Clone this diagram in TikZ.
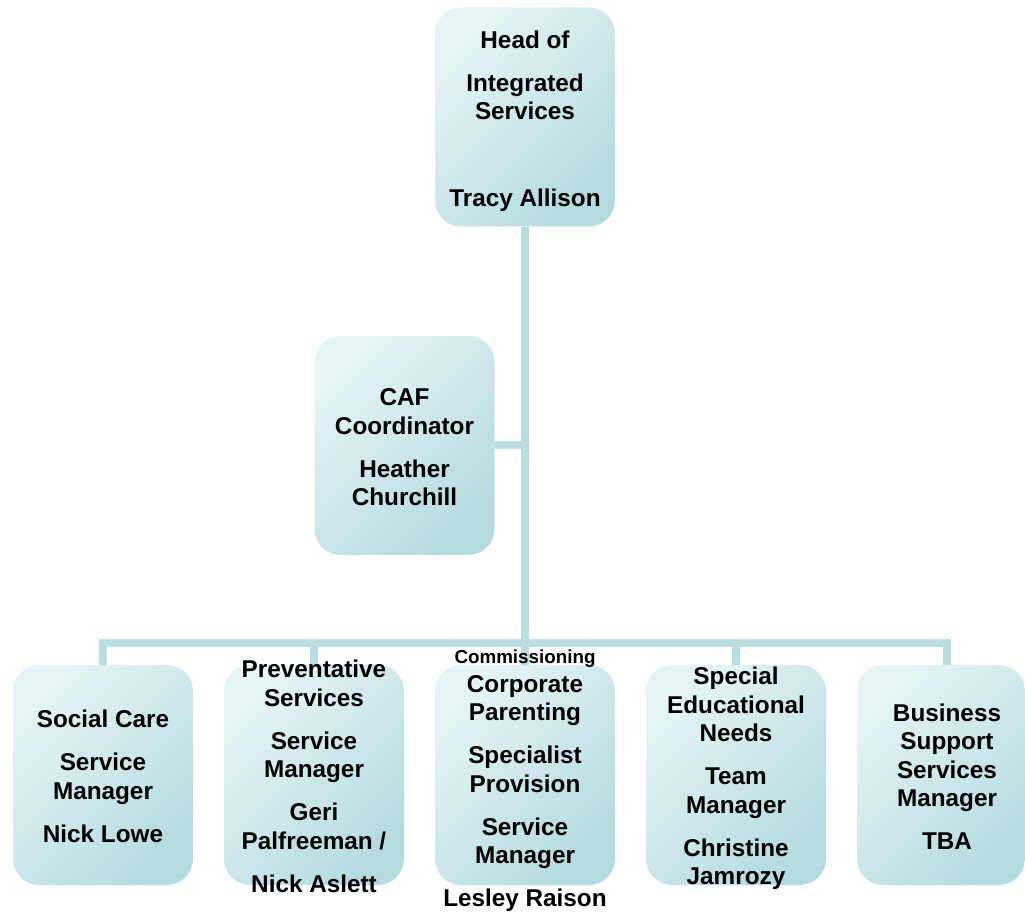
\documentclass[tikz,border=0pt]{standalone}
\usepackage{fontspec}
\setmainfont{Liberation Sans}
\definecolor{boxlight}{HTML}{E6F4F5}
\definecolor{boxdark}{HTML}{B4DBDF}
\definecolor{linkblue}{HTML}{B8DEE2}
\tikzset{%
    unit/.style={minimum width=180pt,minimum height=219pt,inner sep=0pt,rounded corners=26pt,
        top color=boxlight,bottom color=boxdark,shading angle=45},
    txt/.style={align=center,inner sep=0pt,font=\fontsize{24.3}{28.5}\selectfont\bfseries},
    link/.style={draw=linkblue,line width=8pt}
}

\begin{document}
\begin{tikzpicture}[x=1pt,y=1pt]
            \useasboundingbox (0,0) rectangle (1025,913);
            \node[unit] (head) at (525,796){};
            \node[unit] (caf) at (404.5,467.5){};
            \node[unit,minimum height=220pt] (soc) at (103,138){};
            \node[unit,minimum height=220pt] (prev) at (314,138){};
            \node[unit,minimum height=220pt] (comm) at (525,138){};
            \node[unit,minimum height=220pt] (sen) at (736,138){};
            \node[unit,minimum height=220pt,minimum width=168pt] (bss) at (941,138){};
            \coordinate (bar) at (525,270);
            \coordinate (bss-top) at ([xshift=6pt]bss.north);

            \draw[link] (head.south) -- (comm.north);
            \draw[link] (caf.east) -- (caf.east -| head.south);
            \draw[link] (soc.north) |- (bar) -| (bss-top);
            \draw[link] (prev.north) -- (prev.north |- bar);
            \draw[link] (sen.north) -- (sen.north |- bar);

            \node[txt] (head-t) at ([yshift=-4pt]head.center){Head of\\[14.5pt]Integrated\\Services\\[58.5pt]Tracy Allison};
            \node[txt] (caf-t) at ([yshift=-2pt]caf.center){CAF\\Coordinator\\[14.5pt]Heather\\Churchill};
            \node[txt] (soc-t) at ([yshift=-1.5pt]soc.center){Social Care\\[14.5pt]Service\\Manager\\[14.5pt]Nick Lowe};
            \node[txt] (prev-t) at ([yshift=-1.5pt]prev.center){Preventative\\Services\\[14.5pt]Service\\Manager\\[14.5pt]Geri\\Palfreeman /\\[14.5pt]Nick Aslett};
            \node[txt] (comm-t) at ([yshift=-6pt]comm.center){{\fontsize{18.8}{28.5}\selectfont Commissioning}\\Corporate\\Parenting\\[14.5pt]Specialist\\Provision\\[14.5pt]Service\\Manager\\[14.5pt]Lesley Raison};
            \node[txt] (sen-t) at ([yshift=-3.5pt]sen.center){Special\\Educational\\Needs\\[14.5pt]Team\\Manager\\[14.5pt]Christine\\Jamrozy};
            \node[txt] (bss-t) at ([yshift=-1.5pt]bss-top |- bss.center){Business\\Support\\Services\\Manager\\[14.5pt]TBA};
        \end{tikzpicture}
\end{document}
